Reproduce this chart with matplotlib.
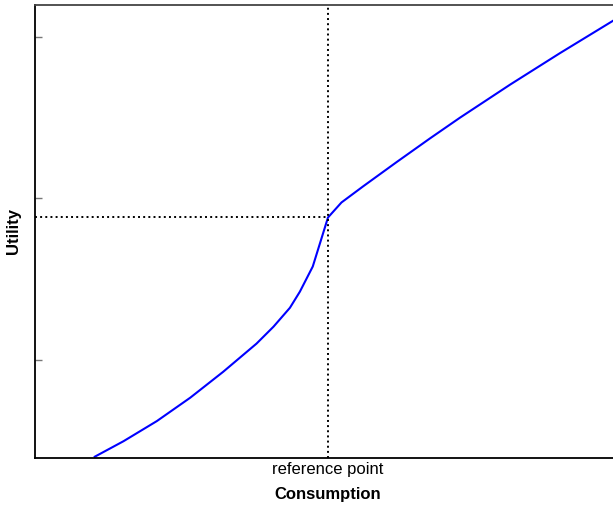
import matplotlib
matplotlib.use("Agg")
import matplotlib.pyplot as plt

# value function points
consumption = [1.02, 1.51, 2.08, 2.65, 3.21, 3.78, 4.07, 4.35, 4.52, 4.74, 5.0,
               5.23, 5.6, 6.17, 6.74, 7.25, 8.11, 8.96, 9.84, 10.0]
utility = [0.399, 0.495, 0.62, 0.765, 0.925, 1.1, 1.205, 1.322, 1.422, 1.578, 1.882,
           1.975, 2.075, 2.225, 2.372, 2.5, 2.706, 2.901, 3.096, 3.131]
ref_x = 5.0
ref_y = 1.882
y_ticks = [1, 2, 3]
x_ticks = [ref_x]
x_tick_labels = ["reference point"]


def main():
    plt.rcParams["font.family"] = ["Liberation Sans", "DejaVu Sans"]
    fig = plt.figure(figsize=(6.13, 5.05), dpi=100)
    ax = fig.add_axes([35 / 613, 47 / 505, 586 / 613, 453 / 505])

    ax.plot(consumption, utility, color="#0000ff", lw=1.5)
    ax.axvline(ref_x, color="black", ls=":", lw=1.4)
    ax.plot([0, ref_x], [ref_y, ref_y], color="black", ls=":", lw=1.4)

    ax.set_xlim(0, 10)
    ax.set_ylim(0.391, 3.199)
    ax.set_xticks(x_ticks)
    ax.set_xticklabels(x_tick_labels, fontsize=12)
    ax.set_yticks(y_ticks)
    ax.set_yticklabels([])
    ax.tick_params(axis="y", direction="in", length=5, width=1, color="#777777")
    ax.tick_params(axis="x", direction="in", length=0, pad=3)
    for s in ax.spines.values():
        s.set_linewidth(1.3)
    ax.spines["top"].set_color("#444444")
    ax.spines["right"].set_visible(False)

    ax.set_xlabel("Consumption", fontsize=12, fontweight="bold", labelpad=7)
    ax.set_ylabel("Utility", fontsize=12, fontweight="bold")
    ax.yaxis.set_label_coords(-14 / 586, 0.5)

    fig.savefig("out.png", dpi=100)


if __name__ == "__main__":
    main()
